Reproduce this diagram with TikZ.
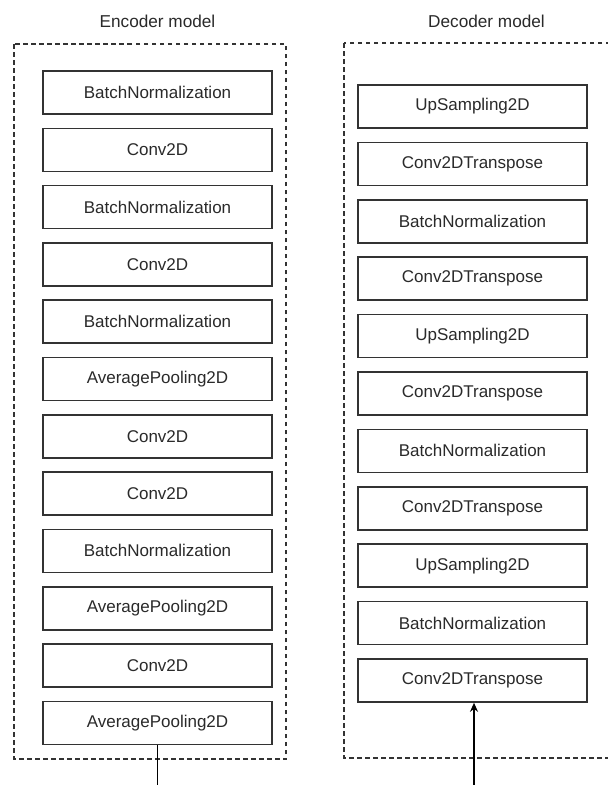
\documentclass[tikz,border=0pt]{standalone}
\usepackage{fontspec}
\setmainfont{Liberation Sans}
\usetikzlibrary{arrows.meta}
\definecolor{boxline}{HTML}{333333}
\definecolor{txt}{HTML}{2A2A2A}
\begin{document}
\begin{tikzpicture}[x=1pt,y=-1pt,
  layer/.style={draw=boxline,line width=1.6pt,minimum width=229pt,minimum height=43pt,
    inner sep=0pt,text=txt,font=\fontsize{17}{19}\selectfont},
  groupbox/.style={draw=boxline,line width=1.5pt,dash pattern=on 4.5pt off 3.5pt},
  title/.style={text=txt,font=\fontsize{17.2}{20}\selectfont},
  conn/.style={draw=black,line width=1.4pt},
  connarrow/.style={conn,-{Stealth[length=9pt,width=8pt]}}]
\useasboundingbox (0,0) rectangle (608,785);
\fill[white] (0,0) rectangle (608,785);
% group boxes
\draw[groupbox] (14,44) rectangle (286,759);
\draw[groupbox] (344,43) rectangle (630,758);
\node[title] (enctitle) at (157.5,21) {Encoder model};
\node[title] (dectitle) at (486.5,21) {Decoder model};
% encoder
\foreach \n/\t [count=\i from 0] in {e1/BatchNormalization,e2/Conv2D,e3/BatchNormalization,e4/Conv2D,e5/BatchNormalization,e6/AveragePooling2D,e7/Conv2D,e8/Conv2D,e9/BatchNormalization,e10/AveragePooling2D,e11/Conv2D,e12/AveragePooling2D}
  \node[layer] (\n) at (157.5,{92.5+57.3*\i}) {\t};
% decoder
\foreach \n/\t [count=\i from 0] in {d1/UpSampling2D,d2/Conv2DTranspose,d3/BatchNormalization,d4/Conv2DTranspose,d5/UpSampling2D,d6/Conv2DTranspose,d7/BatchNormalization,d8/Conv2DTranspose,d9/UpSampling2D,d10/BatchNormalization,d11/Conv2DTranspose}
  \node[layer] (\n) at (472.5,{106.5+57.4*\i}) {\t};
% connectors
\coordinate (encout) at (157.5,790);
\coordinate (decin) at (474,790);
\draw[conn] (e12.south) -- (encout);
\draw[connarrow] (decin) -- (d11.south -| decin);
\end{tikzpicture}
\end{document}
